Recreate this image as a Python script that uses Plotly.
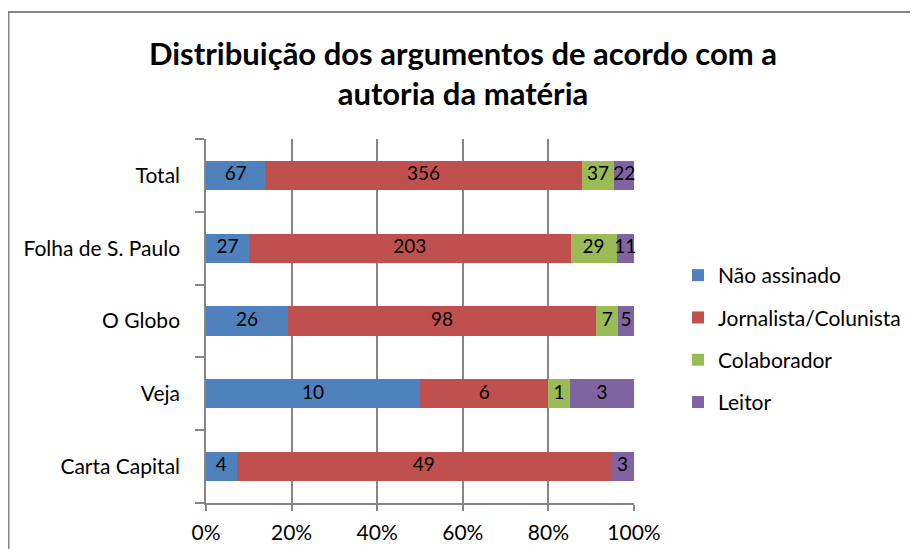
import plotly.graph_objects as go

categories = ["Carta Capital", "Veja", "O Globo", "Folha de S. Paulo", "Total"]
series_names = ["Não assinado", "Jornalista/Colunista", "Colaborador", "Leitor"]
nao_assinado = [4, 10, 26, 27, 67]
jornalista = [49, 6, 98, 203, 356]
colaborador = [0, 1, 7, 29, 37]
leitor = [3, 3, 5, 11, 22]
x_ticks = [0, 20, 40, 60, 80, 100]

series_values = [nao_assinado, jornalista, colaborador, leitor]
colors = ["#4F81BD", "#C0504D", "#9BBB59", "#8064A2"]

FONT = "Lato"
GRAY = "#868686"

# figure sits inside the page body (8px default margin)
W, H = 902, 541
L, T, R, B = 198, 131, 276, 46
PW, PH = W - L - R, H - T - B

def px(x):
    return (x - L) / PW

def py(y):
    return (H - B - y) / PH

fig = go.Figure()
for i, (name, vals, col) in enumerate(zip(series_names, series_values, colors)):
    fig.add_trace(go.Bar(
        y=categories, x=vals, name=name, orientation="h",
        marker=dict(color=col, line=dict(width=0)),
        legendgroup=f"g{i}", hoverinfo="x+y+name",
    ))

# data labels: value shown at the middle of each stacked (percent) segment
totals = [sum(v[j] for v in series_values) for j in range(len(categories))]
lab_x, lab_y, lab_t = [], [], []
for j, cat in enumerate(categories):
    cum = 0.0
    for vals in series_values:
        v = vals[j]
        share = 100.0 * v / totals[j]
        if v:
            lab_x.append(cum + share / 2)
            lab_y.append(cat)
            lab_t.append(str(v))
        cum += share
fig.add_trace(go.Scatter(
    x=lab_x, y=lab_y, text=lab_t, mode="text", textposition="middle center",
    textfont=dict(family=FONT, size=19, color="black"),
    showlegend=False, hoverinfo="skip", cliponaxis=False,
))

fig.update_layout(
    barmode="stack", barnorm="percent", bargap=0.6,
    width=W, height=H,
    margin=dict(l=L, r=R, t=T, b=B, autoexpand=False),
    paper_bgcolor="white", plot_bgcolor="white",
    font=dict(family=FONT, size=19, color="black"),
    title=dict(
        text="<b>Distribuição dos argumentos de acordo com a<br>autoria da matéria</b>",
        x=px(455), xref="paper", xanchor="center",
        y=1 - 57 / H, yref="container", yanchor="top",
        font=dict(family=FONT, size=31, color="black"),
    ),
    legend=dict(
        x=px(670), xanchor="left", y=py(247), yanchor="top",
        traceorder="grouped", tracegroupgap=12,
        font=dict(family=FONT, size=21, color="black"),
        itemwidth=30,
    ),
    showlegend=True,
)
fig.update_xaxes(
    range=[0, 100], tickvals=x_ticks, ticktext=[f"{t}%" for t in x_ticks],
    showgrid=True, gridcolor=GRAY, gridwidth=1.5,
    showline=True, linecolor=GRAY, linewidth=1.5,
    ticks="outside", ticklen=6, tickcolor=GRAY, tickwidth=1.5,
    zeroline=False, tickfont=dict(family=FONT, size=21),
    ticklabelstandoff=4, automargin=False,
    fixedrange=True,
)
fig.update_yaxes(
    showline=True, linecolor=GRAY, linewidth=1.5,
    ticks="outside", tickson="boundaries", ticklen=9, tickcolor=GRAY, tickwidth=1.5,
    showgrid=False, tickfont=dict(family=FONT, size=21),
    ticklabelstandoff=20, automargin=False,
)
fig.add_shape(type="rect", xref="paper", yref="paper",
              x0=px(0.5), x1=px(915), y0=py(565), y1=py(4),
              line=dict(color=GRAY, width=2), fillcolor="rgba(0,0,0,0)", layer="below")

fig.write_html("out.html")
